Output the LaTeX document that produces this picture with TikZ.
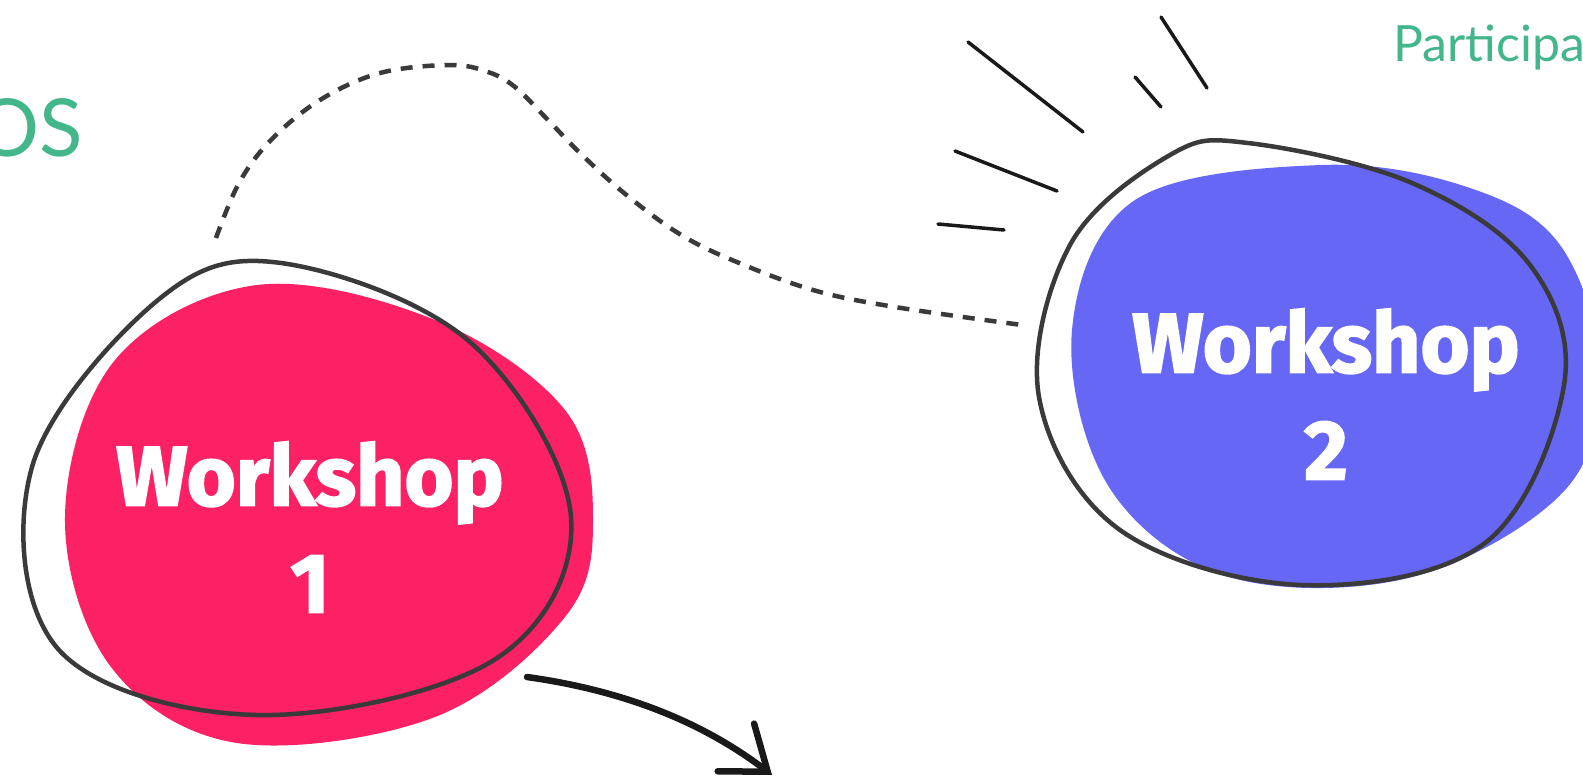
\documentclass[tikz,border=0pt]{standalone}
\usepackage{fontspec}
\newfontfamily\wsfont{Fira Sans Bold}[FakeBold=2.2]
\newfontfamily\latofont{Lato}
\usepackage{tikz}
\usetikzlibrary{positioning,arrows.meta}

\definecolor{wspink}{RGB}{251,33,100}
\definecolor{wsblue}{RGB}{102,103,244}
\definecolor{wsgreen}{RGB}{67,182,138}
\definecolor{wsline}{RGB}{58,58,58}

\begin{document}
\begin{tikzpicture}[x=1pt,y=-1pt,
	blobline/.style={draw=wsline,line width=4.5pt,line join=round},
	ray/.style={draw=black!90,line width=3.5pt,line cap=round},
	dashline/.style={draw=wsline,line width=4.5pt,dash pattern=on 12pt off 10pt},
	wtext/.style={text=white,font=\wsfont\fontsize{84}{107}\selectfont,align=center,inner sep=0pt},
	gtext/.style={text=wsgreen,inner sep=0pt}]
	\clip (0,0) rectangle (1583,780);
	\useasboundingbox (0,0) rectangle (1583,780);

	% workshop 1
	\fill[wspink] plot[smooth cycle,tension=0.6] coordinates {(257,285) (435,320) (565,410) (593,520) (565,617) (435,717) (237,743) (111,667) (65,517) (115,360)};
	\draw[blobline] plot[smooth cycle,tension=0.6] coordinates {(281,263) (470,342) (571,517) (494,660) (257,715) (59,650) (32,467) (158,300)};
	\node[wtext] (ws1) at (310,527) {Workshop\\1};

	% workshop 2
	\fill[wsblue] plot[smooth cycle,tension=0.6] coordinates {(1321,165) (1467,187) (1560,245) (1600,370) (1565,490) (1412,577) (1229,577) (1109,487) (1072,330) (1135,200)};
	\draw[blobline] plot[smooth cycle,tension=0.6] coordinates {(1248,143) (1412,183) (1530,265) (1564,385) (1485,543) (1302,585) (1120,530) (1039,397) (1070,245) (1170,155)};
	\node[wtext] (ws2) at (1326,394) {Workshop\\2};

	% rays
	\draw[ray] (968,42) -- (1083,132);
	\draw[ray] (955,151) -- (1057,191);
	\draw[ray] (938,224) -- (1004,230);
	\draw[ray] (1135,77) -- (1161,107);
	\draw[ray] (1161,17) -- (1207,88);

	% dashed path between the two
	\coordinate (dstart) at (216,238);
	\coordinate (dend) at (1022,325);
	\draw[dashline] plot[smooth,tension=0.6] coordinates {(dstart) (239,183) (271,140) (320,100) (380,73) (450,65) (488,72) (515,87) (548,120) (580,153) (624,193) (678,233) (732,260) (813,290) (895,307) (dend)};

	% arrow out of workshop 1
	\coordinate (astart) at (527,677);
	\coordinate (aend) at (772,775);
	\draw[line width=6.5pt,draw=black!90,line cap=round,-{Straight Barb[length=40pt,width=60pt,line cap=round]}] (astart) .. controls (620,690) and (700,720) .. (aend);

	% green titles
	\node[gtext,anchor=base east,font=\latofont\fontsize{80}{90}\selectfont] (osword) at (83,156) {OS};
	\node[gtext,anchor=base west,font=\latofont\fontsize{50}{60}\selectfont] (partword) at (1393,61) {Participa};
\end{tikzpicture}
\end{document}
